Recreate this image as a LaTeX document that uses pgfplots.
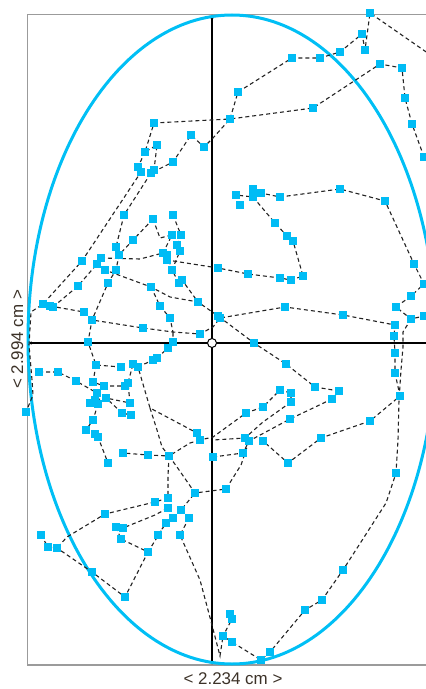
\documentclass[border=0pt]{standalone}
\usepackage{fontspec}
\setmainfont{Liberation Sans}
\usepackage{pgfplots}
\pgfplotsset{compat=1.18}
\usepackage{pgfplotstable}
\usetikzlibrary{arrows.meta}

\definecolor{ellcyan}{RGB}{0,191,245}
\definecolor{ptcyan}{RGB}{0,188,245}
\definecolor{framegray}{RGB}{155,155,155}
\definecolor{trackgray}{RGB}{35,35,35}
\definecolor{labelcol}{RGB}{60,50,40}

% sway track in screen pixels (y downwards); m=1 marks a sample, m=0 a bend of the path
\pgfplotstableread{
x y m
432 56 0
370 13 1
365 50 1
362 34 1
340 52 1
320 58 1
292 58 1
238 92 1
230 119 1
154 123 1
145 152 1
157 145 1
154 170 1
nan nan 0
424 157 1
412 124 1
405 98 1
402 68 1
380 64 1
313 108 1
230 119 1
213 138 0
204 147 1
191 135 1
173 162 1
151 173 1
124 215 1
116 247 1
119 255 1
nan nan 0
145 152 1
138 167 1
141 172 1
82 261 1
43 304 1
31 312 0
29 345 0
32 380 0
33 395 0
26 412 1
nan nan 0
153 219 1
133 240 1
119 255 1
116 270 1
108 283 1
92 320 1
88 342 1
96 365 1
121 367 1
nan nan 0
101 258 1
140 259 0
163 253 1
167 260 1
218 268 1
248 274 1
280 278 1
291 280 1
303 276 1
293 241 1
287 236 1
275 223 1
253 197 1
236 195 1
240 205 1
nan nan 0
253 189 1
261 193 1
280 197 1
340 189 1
385 201 1
414 264 1
424 284 1
411 296 1
396 307 1
411 319 1
424 316 1
nan nan 0
50 306 1
84 312 1
92 320 1
143 328 1
173 332 0
200 334 1
213 327 0
220 318 1
285 307 1
343 315 1
395 325 1
394 336 1
395 353 1
395 373 1
400 396 1
370 421 1
321 438 1
288 463 1
263 441 1
nan nan 0
53 307 1
78 286 1
97 264 1
105 270 1
151 287 1
170 297 0
198 302 1
218 316 1
254 343 1
286 364 1
315 387 1
339 391 1
332 399 1
290 419 1
249 441 1
243 453 1
213 457 1
nan nan 0
173 215 1
181 235 1
177 245 1
180 251 1
172 270 1
179 283 1
182 280 1
198 302 1
nan nan 0
153 219 1
160 238 0
172 235 1
163 253 1
167 255 1
172 270 1
nan nan 0
151 287 1
160 306 1
170 318 1
173 332 0
nan nan 0
138 367 1
153 360 1
157 358 1
168 348 1
173 342 1
173 332 0
nan nan 0
39 372 1
58 372 1
76 381 1
97 393 1
106 398 1
130 403 1
128 383 1
133 364 1
138 367 1
150 408 0
197 433 1
200 440 1
213 437 0
246 413 1
263 407 1
280 390 1
291 393 1
291 402 1
263 422 0
245 438 1
213 440 0
nan nan 0
96 365 1
93 382 1
104 386 1
125 386 1
128 383 1
nan nan 0
90 403 1
95 400 1
106 398 1
122 413 1
131 415 1
nan nan 0
98 404 1
93 420 1
86 430 1
95 434 1
98 437 1
108 463 1
nan nan 0
150 408 0
157 430 0
162 447 0
169 456 1
148 455 1
123 453 1
nan nan 0
200 440 1
190 443 0
169 456 1
177 467 0
195 493 1
226 489 1
241 465 0
249 441 1
nan nan 0
168 498 1
155 502 1
105 514 1
67 537 0
57 548 1
nan nan 0
41 535 1
48 547 1
57 548 1
92 572 1
125 597 1
148 552 1
121 539 1
116 527 1
123 528 1
155 515 0
168 508 1
nan nan 0
148 552 1
166 523 1
173 518 1
181 510 1
195 493 1
nan nan 0
169 456 1
168 476 0
168 498 1
nan nan 0
158 535 1
166 523 1
nan nan 0
189 518 1
180 535 1
200 580 0
212 625 0
220 656 0
223 636 1
nan nan 0
411 319 1
403 332 0
403 347 0
401 370 0
399 400 0
398 440 0
396 473 1
386 503 0
343 570 1
322 600 1
305 610 1
270 652 1
261 660 1
232 642 1
223 636 1
232 619 1
230 614 1
}\track

\begin{document}
\begin{tikzpicture}
\begin{axis}[
  width=426bp, height=689bp, scale only axis,
  xmin=0, xmax=426, ymin=0, ymax=689,
  y dir=reverse,
  hide axis,
]
  % plot frame (open to the right)
  \draw[framegray, line width=1.4bp]
    (axis cs:440,14.5) -- (axis cs:27.7,14.5) -- (axis cs:27.7,665) -- (axis cs:440,665);

  % crosshair through the reference point
  \draw[black, line width=1.3bp, {Latex[length=4bp,width=3.5bp]}-]
    (axis cs:27.7,343) -- (axis cs:440,343);
  \draw[black, line width=1.3bp, {Latex[length=4bp,width=3.5bp]}-{Latex[length=4bp,width=3.5bp]}]
    (axis cs:212,14.5) -- (axis cs:212,665);

  % 95% ellipse of the sway area
  \draw[ellcyan, line width=3bp] (axis cs:232,339.5) ellipse [x radius=204, y radius=324.5];

  % track and samples
  \addplot[trackgray, line width=1.1bp, dash pattern=on 4bp off 3bp,
           unbounded coords=jump, mark=none] table[x=x, y=y] {\track};
  \addplot[only marks, mark=square*, mark size=3.1bp,
           mark options={fill=ptcyan, draw=ptcyan, line width=0pt, solid},
           restrict expr to domain={\thisrow{m}}{0.5:1.5}] table[x=x, y=y] {\track};

  % reference point
  \draw[black, line width=1bp, fill=white] (axis cs:212,343) circle [radius=4.5];

  % extent labels
  \node[rotate=90, anchor=base, text=labelcol, inner sep=0pt,
        font=\fontsize{17}{20}\selectfont] at (axis cs:23,339.5) {< 2.994 cm >};
  \node[anchor=base, text=labelcol, inner sep=0pt,
        font=\fontsize{17}{20}\selectfont] at (axis cs:233,684.5) {< 2.234 cm >};

  \coordinate (bbsw) at (axis cs:0,689);
  \coordinate (bbne) at (axis cs:426,0);
\end{axis}
\pgfresetboundingbox
\path[use as bounding box] (bbsw) rectangle (bbne);
\end{tikzpicture}
\end{document}
